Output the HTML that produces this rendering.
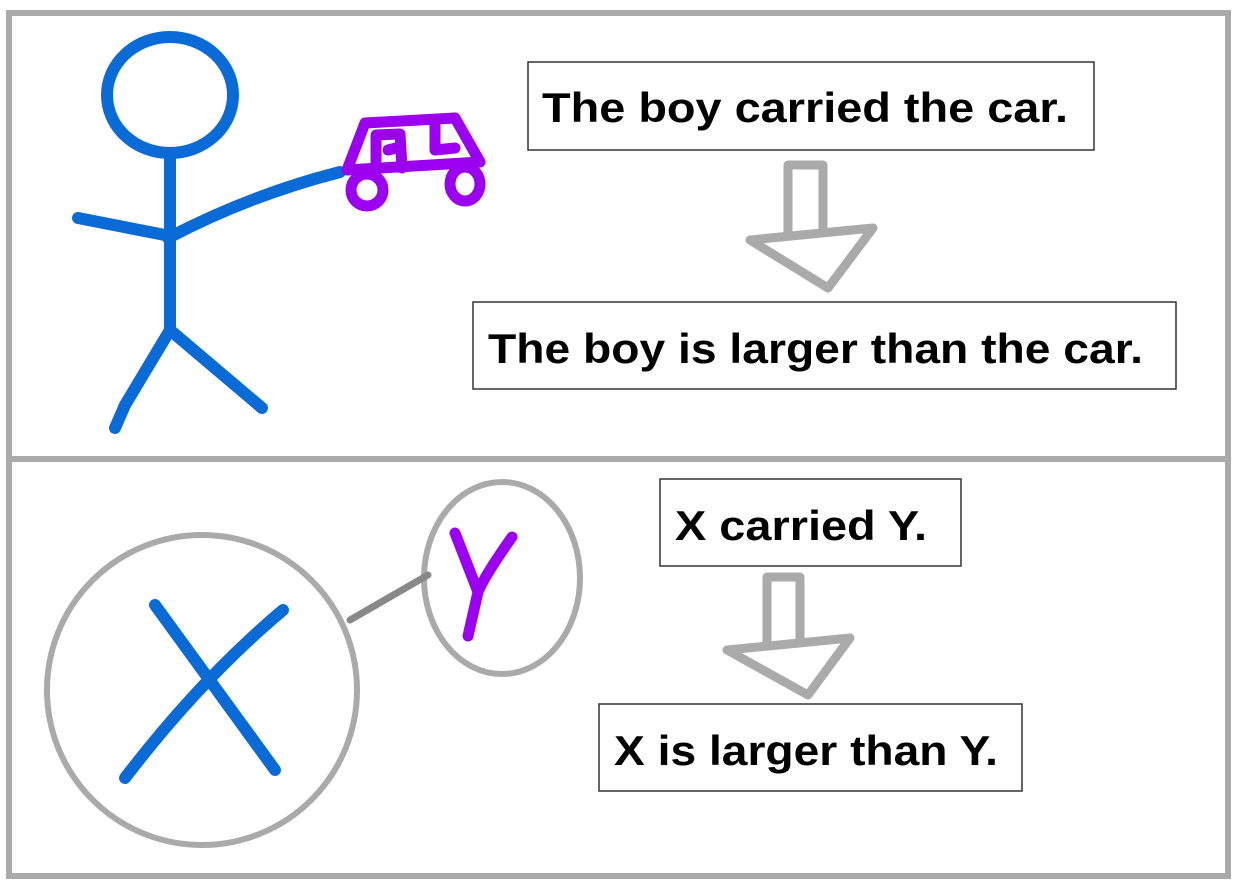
<!DOCTYPE html>
<html><head><style>body{margin:0;background:#fff}svg{display:block}</style></head><body>
<svg width="1238" height="884" xmlns="http://www.w3.org/2000/svg">
<rect x="9" y="13" width="1219" height="863" fill="#fff" stroke="#aaa" stroke-width="6"/>
<line x1="9" y1="459" x2="1228" y2="459" stroke="#aaa" stroke-width="6"/>
<g fill="none" stroke="#0a6ad6" stroke-width="12" stroke-linecap="round" stroke-linejoin="round">
<ellipse cx="170" cy="95" rx="63" ry="58"/>
<path d="M170 160 L170 330"/>
<path d="M78 218 L165 235"/>
<path d="M168 238 Q250 195 340 172"/>
<path d="M170 330 L125 405 L115 428"/>
<path d="M170 330 L262 408"/>
<path d="M155 605 L275 770"/>
<path d="M283 610 Q200 680 125 778"/>
</g>
<g fill="none" stroke="#9b00f0" stroke-width="11" stroke-linecap="round" stroke-linejoin="round">
<path d="M365 123 L455 118 L480 162 L347 170 Z"/>
<path d="M376 170 L376 135 L400 134 L402 168"/>
<path d="M388 150 L396 148"/>
<path d="M435 122 L435 150 L455 148"/>
<circle cx="367" cy="190" r="16"/>
<ellipse cx="465" cy="184" rx="15" ry="17"/>
<path d="M455 533 L478 592 M512 537 Q485 575 478 592 L468 636"/>
</g>
<g fill="none" stroke="#aaa" stroke-width="6">
<ellipse cx="202" cy="690" rx="155" ry="155"/>
<ellipse cx="502" cy="578" rx="78" ry="96"/>
</g>
<path d="M350 620 L428 575" stroke="#888" stroke-width="7" stroke-linecap="round"/>
<g fill="none" stroke="#aaa" stroke-width="9" stroke-linecap="round" stroke-linejoin="round">
<path d="M788 235 L788 165 L823 165 L823 232"/>
<path d="M750 240 L873 228 L828 288 Z"/>
<path d="M767 642 L767 577 L800 577 L800 640"/>
<path d="M727 650 L850 638 L808 695 Z"/>
</g>
<g font-family="Liberation Sans, sans-serif" font-weight="bold" font-size="42" fill="#000">
<rect x="528" y="62" width="566" height="88" fill="#fff" stroke="#333" stroke-width="1.5"/>
<text x="542" y="122" textLength="526" lengthAdjust="spacingAndGlyphs">The boy carried the car.</text>
<rect x="473" y="302" width="703" height="87" fill="#fff" stroke="#333" stroke-width="1.5"/>
<text x="488" y="363" textLength="655" lengthAdjust="spacingAndGlyphs">The boy is larger than the car.</text>
<rect x="660" y="479" width="301" height="87" fill="#fff" stroke="#333" stroke-width="1.5"/>
<text x="675" y="540" textLength="252" lengthAdjust="spacingAndGlyphs">X carried Y.</text>
<rect x="599" y="704" width="423" height="87" fill="#fff" stroke="#333" stroke-width="1.5"/>
<text x="614" y="765" textLength="384" lengthAdjust="spacingAndGlyphs">X is larger than Y.</text>
</g>
</svg>
</body></html>
